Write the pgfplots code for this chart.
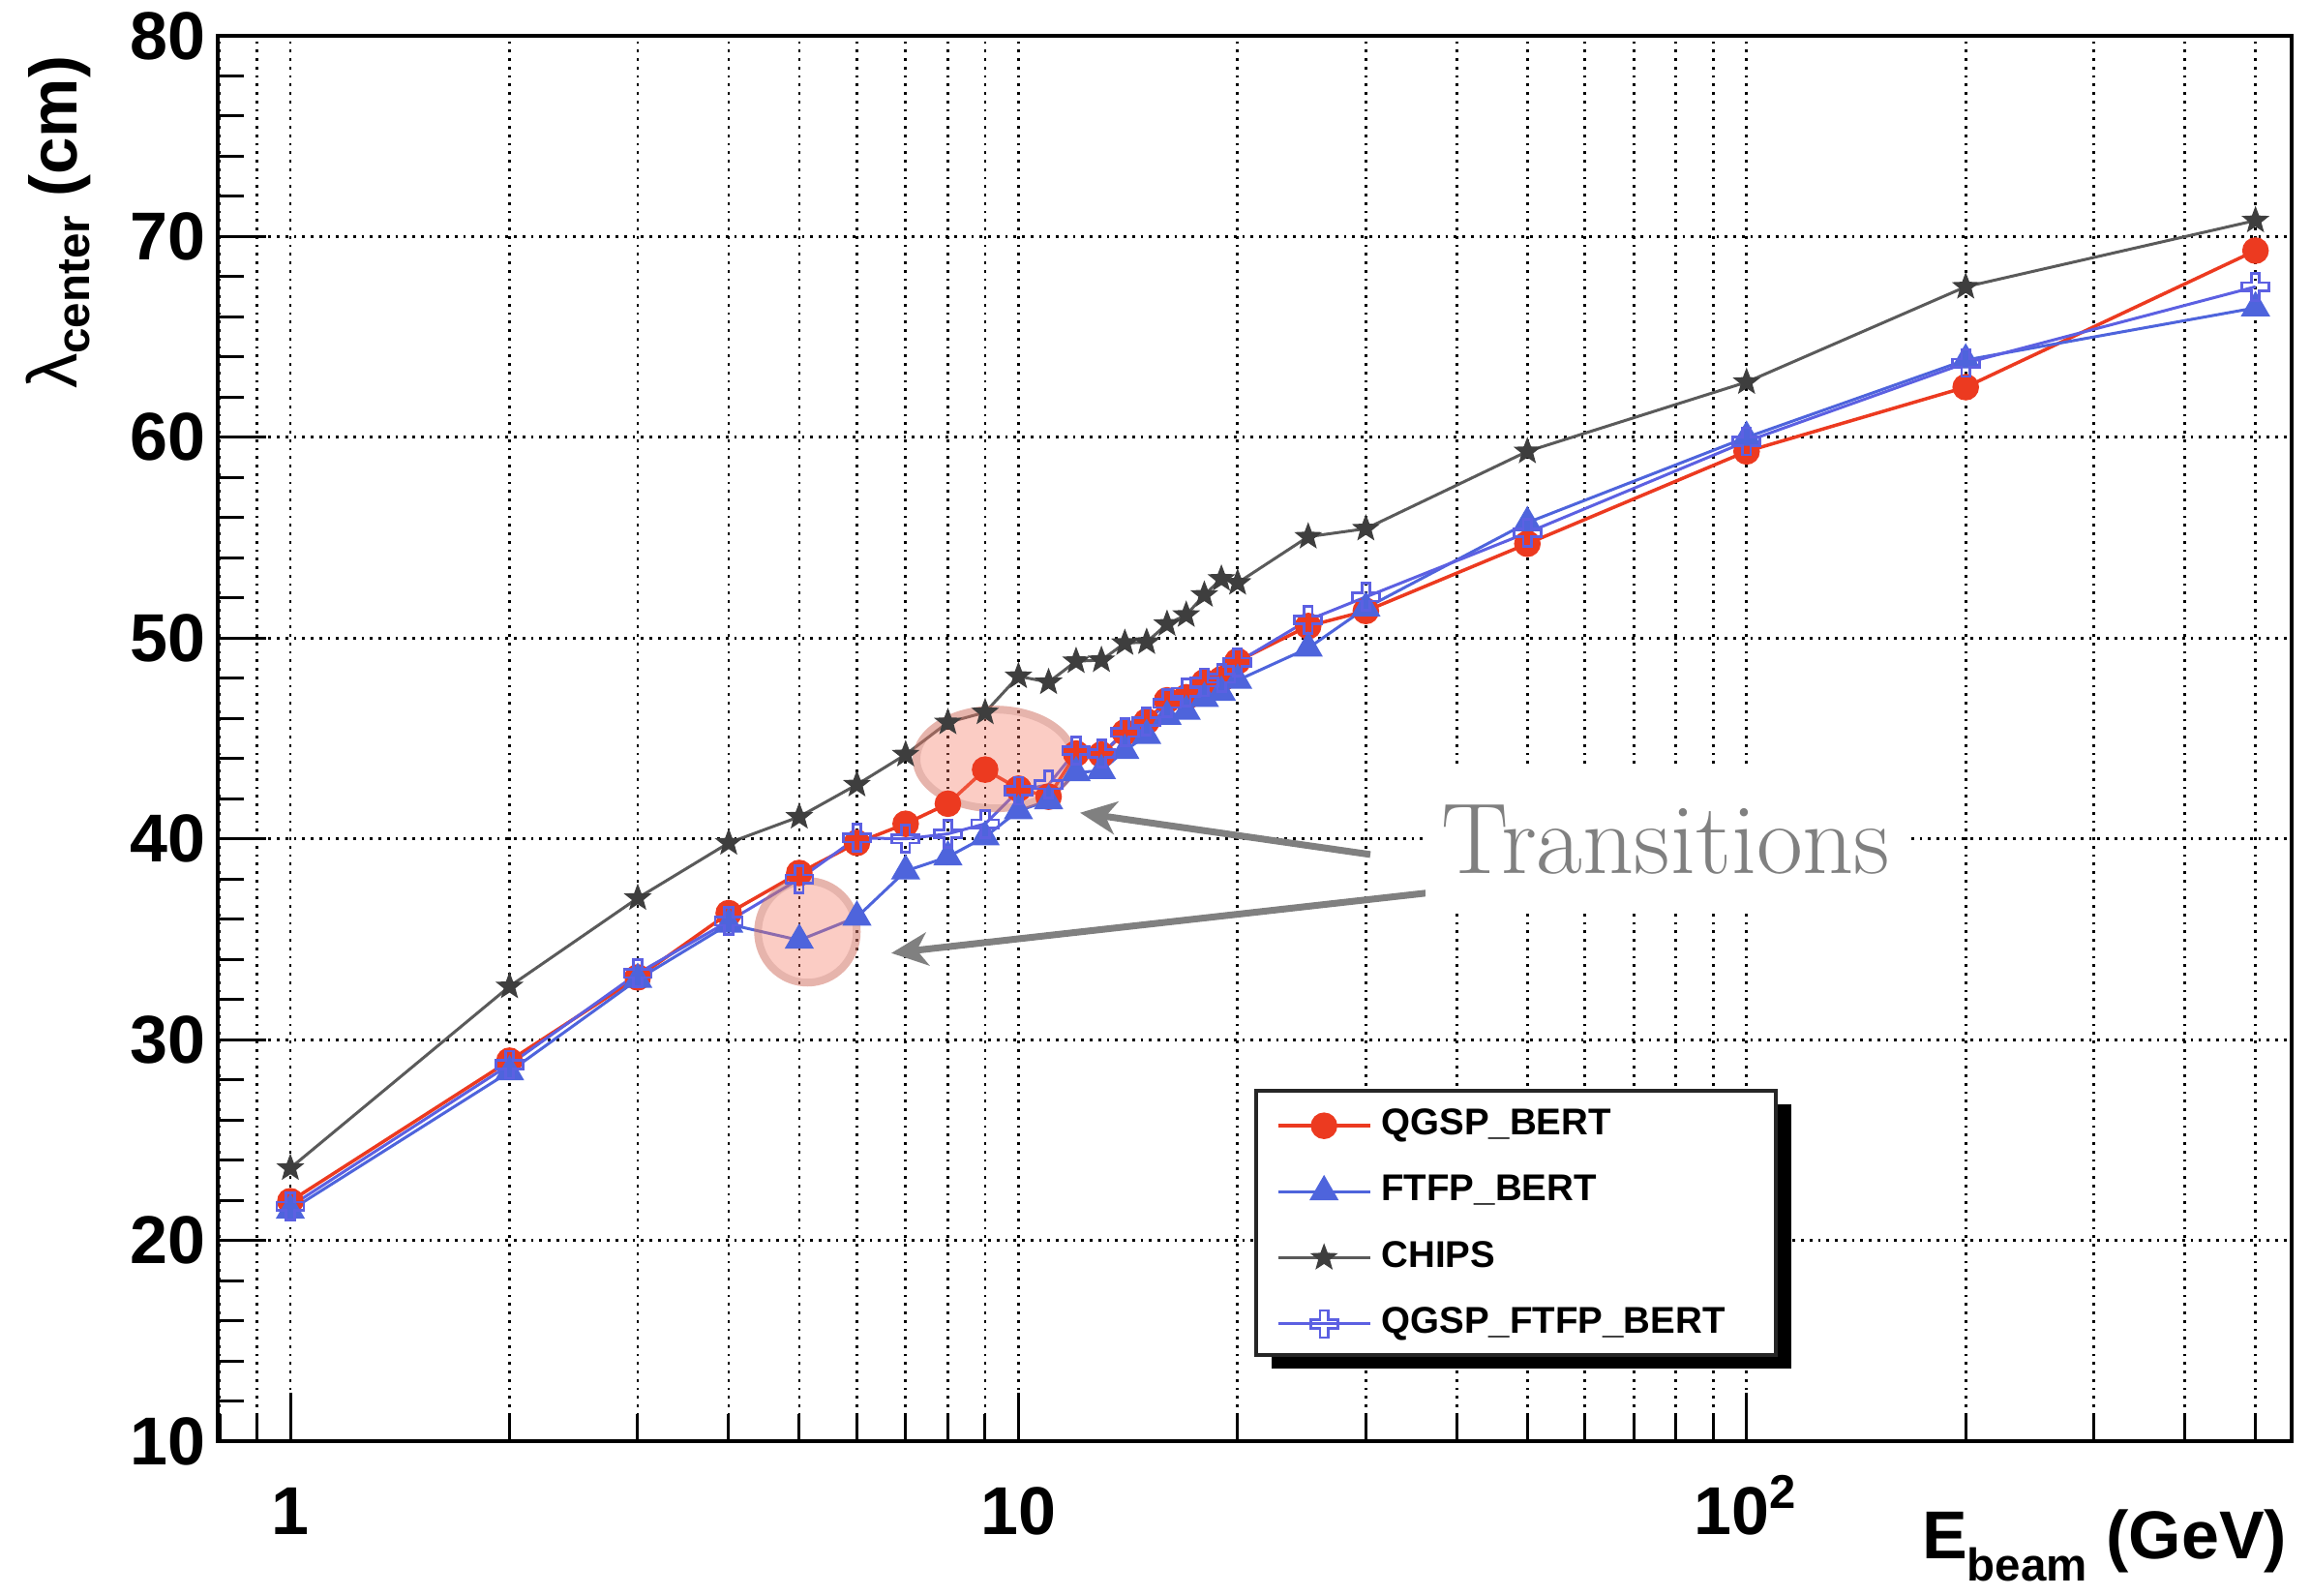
\documentclass[border=0pt]{standalone}
\usepackage{fontspec}
\setsansfont{Liberation Sans}
\usepackage{pgfplots}
\pgfplotsset{compat=1.18}
\usetikzlibrary{arrows.meta}
\definecolor{qred}{RGB}{236,58,32}
\definecolor{fblue}{RGB}{78,100,220}
\definecolor{cblue}{RGB}{92,96,226}
\definecolor{chipsline}{RGB}{90,90,90}
\definecolor{chipsmark}{RGB}{62,62,62}
\definecolor{pinkfill}{RGB}{245,120,100}
\definecolor{ringcol}{RGB}{170,110,100}
\definecolor{anngray}{RGB}{128,128,128}

\pgfdeclareplotmark{fstar}{%
  \pgfpathmoveto{\pgfpointpolar{90}{\pgfplotmarksize}}%
  \pgfpathlineto{\pgfpointpolar{126}{0.42\pgfplotmarksize}}%
  \pgfpathlineto{\pgfpointpolar{162}{\pgfplotmarksize}}%
  \pgfpathlineto{\pgfpointpolar{198}{0.42\pgfplotmarksize}}%
  \pgfpathlineto{\pgfpointpolar{234}{\pgfplotmarksize}}%
  \pgfpathlineto{\pgfpointpolar{270}{0.42\pgfplotmarksize}}%
  \pgfpathlineto{\pgfpointpolar{306}{\pgfplotmarksize}}%
  \pgfpathlineto{\pgfpointpolar{342}{0.42\pgfplotmarksize}}%
  \pgfpathlineto{\pgfpointpolar{18}{\pgfplotmarksize}}%
  \pgfpathlineto{\pgfpointpolar{54}{0.42\pgfplotmarksize}}%
  \pgfpathclose\pgfusepathqfillstroke}
\pgfdeclareplotmark{ocross}{%
  \pgfpathmoveto{\pgfqpoint{0.3\pgfplotmarksize}{\pgfplotmarksize}}%
  \pgfpathlineto{\pgfqpoint{0.3\pgfplotmarksize}{0.3\pgfplotmarksize}}%
  \pgfpathlineto{\pgfqpoint{\pgfplotmarksize}{0.3\pgfplotmarksize}}%
  \pgfpathlineto{\pgfqpoint{\pgfplotmarksize}{-0.3\pgfplotmarksize}}%
  \pgfpathlineto{\pgfqpoint{0.3\pgfplotmarksize}{-0.3\pgfplotmarksize}}%
  \pgfpathlineto{\pgfqpoint{0.3\pgfplotmarksize}{-\pgfplotmarksize}}%
  \pgfpathlineto{\pgfqpoint{-0.3\pgfplotmarksize}{-\pgfplotmarksize}}%
  \pgfpathlineto{\pgfqpoint{-0.3\pgfplotmarksize}{-0.3\pgfplotmarksize}}%
  \pgfpathlineto{\pgfqpoint{-\pgfplotmarksize}{-0.3\pgfplotmarksize}}%
  \pgfpathlineto{\pgfqpoint{-\pgfplotmarksize}{0.3\pgfplotmarksize}}%
  \pgfpathlineto{\pgfqpoint{-0.3\pgfplotmarksize}{0.3\pgfplotmarksize}}%
  \pgfpathlineto{\pgfqpoint{-0.3\pgfplotmarksize}{\pgfplotmarksize}}%
  \pgfpathclose\pgfusepathqstroke}

\begin{document}
\begin{tikzpicture}
\useasboundingbox (-45pt,-32pt) rectangle (432.6pt,297.8pt);
\begin{axis}[
  at={(0pt,0pt)}, anchor=south west,
  scale only axis, width=428.6pt, height=290.4pt,
  xmode=log, xmin=0.795, xmax=560.6, ymin=10, ymax=80,
  clip=false,
  axis line style={line width=0.8pt},
  xtick={1,10,100}, xticklabels={1,10,10\textsuperscript{2}},
  minor xtick={0.8,0.9,2,3,4,5,6,7,8,9,20,30,40,50,60,70,80,90,200,300,400,500},
  ytick={10,20,...,80},
  minor ytick={12,14,...,78},
  xmajorgrids, xminorgrids, ymajorgrids,
  major grid style={black, line width=0.55pt, dash pattern=on 0.55pt off 1.2pt},
  minor grid style={black, line width=0.55pt, dash pattern=on 0.55pt off 1.2pt},
  tick align=inside, tick pos=left,
  major tick length=10pt, minor tick length=5.5pt,
  tick style={black, line width=0.6pt},
  tick label style={font=\sffamily\bfseries\fontsize{14}{14}\selectfont},
  /pgf/number format/assume math mode=true,
  yticklabel style={anchor=east, inner sep=0pt, xshift=-2.4pt},
  xticklabel style={anchor=base, inner sep=0pt, yshift=-19.2pt},
  legend style={draw=none, fill=none, at={(0.5100,0.2438)}, anchor=north west,
    inner sep=0pt, row sep=2.8pt,
    font=\sffamily\bfseries\fontsize{7.7}{9}\selectfont,
    /tikz/every even column/.append style={column sep=3.6pt}},
  legend cell align=left,
  legend image code/.code={\draw[mark repeat=2,mark phase=2,#1] plot coordinates {(0pt,0pt) (9.5pt,0pt) (19pt,0pt)};},
]
\addplot[color=qred, line width=0.7pt, mark=*, mark size=2.4pt, mark options={fill=qred, draw=qred}] coordinates {
(1,21.95) (2,28.95) (3,33.1) (4,36.3) (5,38.3) (6,39.8) (7,40.75) (8,41.75) (9,43.45) (10,42.5)
(11,42.1) (12,44.25) (13,44.2) (14,45.3) (15,45.85) (16,46.9) (17,47.05) (18,47.8) (19,47.95) (20,48.85)
(25,50.6) (30,51.35) (50,54.7) (100,59.3) (200,62.5) (500,69.3)};
\addlegendentry{QGSP\_BERT}
\addplot[color=fblue, line width=0.6pt, mark=triangle*, mark size=2.9pt, mark options={fill=fblue, draw=fblue}] coordinates {
(1,21.5) (2,28.4) (3,33.0) (4,35.75) (5,34.95) (6,36.1) (7,38.4) (8,39.1) (9,40.1) (10,41.4)
(11,41.9) (12,43.3) (13,43.4) (14,44.4) (15,45.15) (16,46.1) (17,46.35) (18,47.0) (19,47.3) (20,47.9)
(25,49.5) (30,51.5) (50,55.75) (100,60.0) (200,63.85) (500,66.45)};
\addlegendentry{FTFP\_BERT}
\addplot[color=chipsline, line width=0.6pt, mark=fstar, mark size=2.6pt, mark options={fill=chipsmark, draw=chipsmark, line width=0.3pt}] coordinates {
(1,23.6) (2,32.65) (3,37.05) (4,39.8) (5,41.1) (6,42.7) (7,44.2) (8,45.8) (9,46.3) (10,48.1)
(11,47.8) (12,48.85) (13,48.9) (14,49.75) (15,49.8) (16,50.7) (17,51.15) (18,52.15) (19,52.95) (20,52.75)
(25,55.05) (30,55.45) (50,59.3) (100,62.75) (200,67.5) (500,70.8)};
\addlegendentry{CHIPS}
\addplot[color=cblue, line width=0.6pt, mark=ocross, mark size=2.8pt, mark options={draw=cblue, line width=0.55pt}] coordinates {
(1,21.7) (2,28.75) (3,33.3) (4,35.9) (5,38.0) (6,40.05) (7,40.0) (8,40.25) (9,40.75) (10,42.4)
(11,42.7) (12,44.4) (13,44.25) (14,45.3) (15,45.85) (16,46.75) (17,47.3) (18,47.8) (19,48.0) (20,48.8)
(25,50.9) (30,52.05) (50,55.25) (100,59.8) (200,63.7) (500,67.5)};
\addlegendentry{QGSP\_FTFP\_BERT}
% annotations
\fill[pinkfill, opacity=0.38] (axis cs:9.28,43.98) ellipse [x radius=17pt, y radius=11pt];
\draw[ringcol, opacity=0.25, line width=1.6pt] (axis cs:9.28,43.98) ellipse [x radius=16.2pt, y radius=10.2pt];
\fill[pinkfill, opacity=0.38] (axis cs:5.13,35.37) ellipse [x radius=11pt, y radius=11.3pt];
\draw[ringcol, opacity=0.25, line width=1.6pt] (axis cs:5.13,35.37) ellipse [x radius=10.2pt, y radius=10.5pt];
\draw[anngray, line width=1.4pt, -{Stealth[length=7.5pt, width=6.8pt, inset=2.2pt]}] (axis cs:30.43,39.22) -- (axis cs:12.15,41.30);
\draw[anngray, line width=1.4pt, -{Stealth[length=7.5pt, width=6.8pt, inset=2.2pt]}] (axis cs:36.34,37.30) -- (axis cs:6.69,34.31);
\node[fill=white, inner sep=0pt, minimum width=99.4pt, minimum height=30pt, text=anngray, font=\rmfamily\fontsize{20.8}{21}\selectfont] at (axis cs:77.5,39.95) {Transitions};
% legend box with shadow
\fill[black] ([xshift=3.2pt,yshift=-2.8pt]rel axis cs:0.5007,0.0613) rectangle ([xshift=3.2pt,yshift=-2.8pt]rel axis cs:0.7513,0.2493);
\filldraw[fill=white, draw=black!85, line width=0.7pt] (rel axis cs:0.5007,0.0613) rectangle (rel axis cs:0.7513,0.2493);
\end{axis}
\node[rotate=90, anchor=base east, inner sep=0pt, font=\sffamily\bfseries\fontsize{13.8}{14}\selectfont] at (-29pt,286.4pt)
  {{\mdseries\fontsize{14.5}{15}\selectfont λ}\raisebox{-2.5pt}{\fontsize{9.5}{10}\selectfont center} (cm)};
\node[anchor=base east, inner sep=0pt, font=\sffamily\bfseries\fontsize{14}{14}\selectfont] at (427.8pt,-24.4pt)
  {E\raisebox{-4.5pt}{\fontsize{9.5}{10}\selectfont beam} (GeV)};
\end{tikzpicture}
\end{document}
